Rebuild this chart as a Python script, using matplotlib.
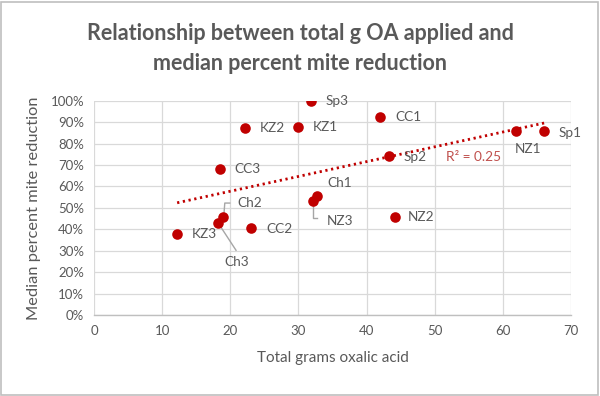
import numpy as np
import matplotlib
matplotlib.use("Agg")
import matplotlib.pyplot as plt
from matplotlib.patches import Rectangle

# ---- data ----
labels = ["Sp3", "KZ2", "KZ1", "CC1", "CC3", "Ch1", "NZ3", "Sp2", "NZ2",
          "NZ1", "Sp1", "Ch2", "Ch3", "CC2", "KZ3"]
grams = [31.9, 22.2, 30.0, 42.0, 18.5, 32.7, 32.1, 43.3, 44.2,
         61.9, 66.1, 18.9, 18.2, 23.1, 12.2]
reduction = [1.00, 0.874, 0.876, 0.922, 0.680, 0.555, 0.531, 0.743, 0.457,
             0.860, 0.857, 0.457, 0.428, 0.407, 0.379]
x_ticks = [0, 10, 20, 30, 40, 50, 60, 70]
y_ticks = [0, 0.1, 0.2, 0.3, 0.4, 0.5, 0.6, 0.7, 0.8, 0.9, 1.0]
r2_text = "R\u00b2 = 0.25"

# label offsets in pixels (dx, dy, ha, leader)
label_style = {
    "Sp3": (14, 0, "left", None),
    "KZ2": (14, 0, "left", None),
    "KZ1": (14, 0, "left", None),
    "CC1": (15, 0, "left", None),
    "CC3": (14, 0, "left", None),
    "Ch1": (11, 13, "left", None),
    "NZ3": (14, -19.5, "left", "elbow_down"),
    "Sp2": (14, -1.5, "left", None),
    "NZ2": (13, 0, "left", None),
    "NZ1": (12.6, -18.6, "center", None),
    "Sp1": (14, -1.5, "left", None),
    "Ch2": (14.7, 14, "left", "elbow_up"),
    "Ch3": (18.7, -38.7, "center", "diag"),
    "CC2": (14.7, -1.6, "left", None),
    "KZ3": (14.4, 0, "left", None),
}

plt.rcParams['font.family'] = ['Lato', 'DejaVu Sans']
grey = "#595959"
red = "#c00000"

fig = plt.figure(figsize=(6.0, 3.96), dpi=100)
W, H = 600, 396
ax = fig.add_axes([94 / W, 1 - 315 / H, (571 - 94) / W, (315 - 100.7) / H])

ax.set_xlim(0, 70)
ax.set_ylim(0, 1.0)
ax.set_xticks(x_ticks)
ax.set_yticks(y_ticks)
ax.set_yticklabels([f"{int(round(v * 100))}%" for v in y_ticks])
ax.grid(True, color="#d9d9d9", lw=0.9)
ax.set_axisbelow(True)
for s in ["top", "right", "left"]:
    ax.spines[s].set_visible(False)
ax.spines["bottom"].set_color("#bfbfbf")
ax.spines["bottom"].set_linewidth(1.0)
ax.tick_params(length=0, colors=grey, labelsize=9.5, pad=7)

# trendline (linear least squares over data range)
xa = np.array(grams)
ya = np.array(reduction)
slope, intercept = np.polyfit(xa, ya, 1)
xs = np.array([xa.min(), xa.max()])
ax.plot(xs, slope * xs + intercept, color=red, lw=2.0,
        linestyle=(0, (0.8, 1.3)), zorder=2)

ax.scatter(grams, reduction, s=58, color=red, zorder=3, linewidths=0)

for lab, gx, ry in zip(labels, grams, reduction):
    dx, dy, ha, leader = label_style[lab]
    ax.annotate(lab, (gx, ry), xytext=(dx, dy), textcoords="offset pixels",
                ha=ha, va="center", color=grey, fontsize=9.8, zorder=4)
    if leader is not None:
        trans = ax.transData
        px, py = trans.transform((gx, ry))
        inv = trans.inverted()
        if leader == "elbow_up":
            pts = [(px + 1, py + 1), (px + 2, py + 14), (px + 7, py + 14)]
        elif leader == "elbow_down":
            pts = [(px, py - 2), (px, py - 17), (px + 4, py - 17)]
        else:
            pts = [(px + 1, py - 1), (px + 18, py - 27)]
        dpts = [inv.transform(p) for p in pts]
        ax.plot([p[0] for p in dpts], [p[1] for p in dpts],
                color="#a6a6a6", lw=1.0, zorder=2.5)

ax.text(51.7, 0.739, r2_text, color="#c0504d", fontsize=9.8,
        ha="left", va="center")

ax.set_xlabel("Total grams oxalic acid", color=grey, fontsize=11, labelpad=10)
ax.set_ylabel("Median percent mite reduction", color=grey, fontsize=11.8,
              labelpad=7)

fig.text(0.5, 1 - 33 / H, "Relationship between total g OA applied and",
         ha="center", va="center", fontsize=15.5, fontweight="bold", color=grey)
fig.text(0.5, 1 - 64 / H, "median percent mite reduction",
         ha="center", va="center", fontsize=15.5, fontweight="bold", color=grey)

fig.patches.append(Rectangle((0.002, 0.002), 0.994, 0.994, transform=fig.transFigure,
                             fill=False, edgecolor="#bfbfbf", lw=1.2))

fig.savefig("out.png", dpi=100)
